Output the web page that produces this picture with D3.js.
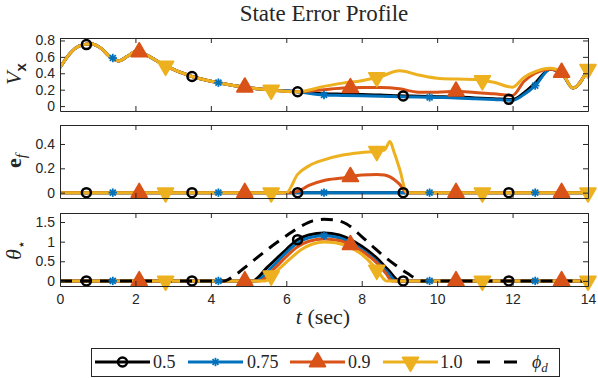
<!DOCTYPE html>
<html>
<head>
<meta charset="utf-8">
<script src="https://cdn.jsdelivr.net/npm/d3@7/dist/d3.min.js"></script>
<style>
  body { margin: 0; background: #fff; }
  svg { display: block; }
</style>
</head>
<body>
<svg id="chart" width="598" height="378"></svg>
<script>
// ---------------- data ----------------
var seriesNames = ["0.5", "0.75", "0.9", "1.0"];
var xTicks = [0, 2, 4, 6, 8, 10, 12, 14];

// V_x panel
var tVx = [0, 0.3, 0.5, 0.8, 1.1, 1.3, 1.55, 1.8, 2.05, 2.3, 2.8, 3.5, 4.2, 4.9, 5.6, 6.3,
           7.0, 7.5, 8.0, 8.5, 9.0, 9.5, 10.0, 10.5, 11.0, 11.5, 12.0, 12.3, 12.6, 13.0, 13.3, 13.6, 14.0];
var vxBlack  = [0.47, 0.66, 0.73, 0.76, 0.70, 0.61, 0.55, 0.61, 0.67, 0.62, 0.49, 0.36, 0.285, 0.23, 0.195, 0.175,
                0.15, 0.145, 0.14, 0.135, 0.125, 0.12, 0.115, 0.11, 0.10, 0.09, 0.08, 0.16, 0.28, 0.45, 0.40, 0.22, 0.45];
var vxBlue   = [0.47, 0.66, 0.73, 0.76, 0.70, 0.61, 0.55, 0.61, 0.67, 0.62, 0.49, 0.36, 0.285, 0.23, 0.195, 0.175,
                0.135, 0.13, 0.125, 0.12, 0.115, 0.11, 0.105, 0.10, 0.09, 0.08, 0.07, 0.14, 0.25, 0.45, 0.40, 0.22, 0.45];
var vxOrange = [0.47, 0.66, 0.73, 0.76, 0.70, 0.61, 0.55, 0.61, 0.67, 0.62, 0.49, 0.36, 0.285, 0.23, 0.195, 0.175,
                0.20, 0.22, 0.225, 0.225, 0.21, 0.17, 0.17, 0.18, 0.165, 0.15, 0.13, 0.30, 0.40, 0.45, 0.41, 0.22, 0.45];
var vxYellow = [0.47, 0.66, 0.73, 0.76, 0.70, 0.61, 0.55, 0.61, 0.67, 0.62, 0.49, 0.36, 0.285, 0.23, 0.195, 0.175,
                0.24, 0.28, 0.31, 0.36, 0.43, 0.38, 0.34, 0.33, 0.325, 0.29, 0.23, 0.35, 0.42, 0.46, 0.41, 0.22, 0.45];

// e_f panel
var tEf = [0, 6.0, 6.3, 6.6, 7.0, 7.5, 8.0, 8.4, 8.6, 8.75, 8.85, 9.0, 9.2, 14];
var efBlack  = [0, 0, 0, 0, 0, 0, 0, 0, 0, 0, 0, 0, 0, 0];
var efBlue   = [0, 0, 0, 0, 0, 0, 0, 0, 0, 0, 0, 0, 0, 0];
var efOrange = [0, 0, 0.01, 0.06, 0.10, 0.12, 0.145, 0.15, 0.145, 0.13, 0.11, 0.07, 0, 0];
var efYellow = [0, 0, 0.15, 0.22, 0.27, 0.31, 0.33, 0.34, 0.35, 0.42, 0.34, 0.20, 0, 0];

// theta panel
var thBlackT  = [0, 5.1, 5.5, 6.0, 6.3, 6.6, 7.0, 7.4, 7.7, 8.0, 8.4, 8.7, 9.0, 14];
var thBlack   = [0, 0, 0.35, 0.80, 1.05, 1.17, 1.22, 1.17, 1.05, 0.88, 0.58, 0.28, 0, 0];
var thBlueT   = [0, 5.2, 5.6, 6.0, 6.3, 6.6, 7.0, 7.4, 7.7, 8.0, 8.4, 8.7, 8.9, 14];
var thBlue    = [0, 0, 0.33, 0.72, 0.97, 1.10, 1.15, 1.10, 0.98, 0.80, 0.50, 0.20, 0, 0];
var thOrangeT = [0, 5.3, 5.7, 6.0, 6.3, 6.6, 7.0, 7.4, 7.7, 8.0, 8.4, 8.65, 8.8, 14];
var thOrange  = [0, 0, 0.33, 0.62, 0.87, 1.01, 1.07, 1.03, 0.92, 0.76, 0.46, 0.18, 0, 0];
var thYellowT = [0, 5.45, 5.8, 6.1, 6.4, 6.7, 7.0, 7.3, 7.7, 8.0, 8.3, 8.5, 8.65, 14];
var thYellow  = [0, 0, 0.30, 0.56, 0.80, 0.94, 0.99, 0.97, 0.85, 0.68, 0.40, 0.15, 0, 0];
var phiT = [0, 4.35, 4.6, 5.0, 5.5, 6.0, 6.4, 6.7, 7.0, 7.3, 7.6, 8.0, 8.3, 8.6, 8.9, 9.2, 9.6, 14];
var phiD = [0, 0, 0.12, 0.42, 0.80, 1.15, 1.40, 1.53, 1.57, 1.55, 1.45, 1.13, 0.87, 0.62, 0.40, 0.20, 0, 0];

// marker start times (every 2.8 s, staggered like the plot)
var markerStart = [0.7, 1.4, 2.1, 2.8];
var markerStep = 2.8;

// ---------------- setup ----------------
var colors = ["#000000", "#0072BD", "#D95319", "#EDB120"];
var markerTypes = ["circle", "star", "up", "down"];
var axisColor = "#262626";

var svg = d3.select("#chart");
var x = d3.scaleLinear().domain([0, 14]).range([60, 588]);

var panels = [
  { top: 38,  bottom: 111, domain: [-0.06, 0.83],  ticks: [0, 0.2, 0.4, 0.6, 0.8],
    series: [[tVx, vxBlack], [tVx, vxBlue], [tVx, vxOrange], [tVx, vxYellow]] },
  { top: 125, bottom: 198, domain: [-0.044, 0.556], ticks: [0, 0.2, 0.4],
    series: [[tEf, efBlack], [tEf, efBlue], [tEf, efOrange], [tEf, efYellow]] },
  { top: 213, bottom: 286, domain: [-0.13, 1.73],  ticks: [0, 0.5, 1, 1.5],
    series: [[thBlackT, thBlack], [thBlueT, thBlue], [thOrangeT, thOrange], [thYellowT, thYellow]],
    dashed: [phiT, phiD] }
];

// linear lookup so markers sit on the line
function interp(ts, vs, t) {
  for (var i = 0; i < ts.length - 1; i++) {
    if (t >= ts[i] && t <= ts[i + 1]) {
      var f = (t - ts[i]) / (ts[i + 1] - ts[i]);
      return vs[i] + f * (vs[i + 1] - vs[i]);
    }
  }
  return vs[vs.length - 1];
}

function drawMarker(g, type, color, cx, cy) {
  if (type == "circle") {
    g.append("circle").attr("cx", cx).attr("cy", cy).attr("r", 4.5)
      .attr("fill", "none").attr("stroke", color).attr("stroke-width", 2.5);
  } else if (type == "star") {
    [0, 45, 90, 135].forEach(function (a) {
      var r = 4.2, rad = a * Math.PI / 180;
      g.append("line")
        .attr("x1", cx - r * Math.cos(rad)).attr("y1", cy - r * Math.sin(rad))
        .attr("x2", cx + r * Math.cos(rad)).attr("y2", cy + r * Math.sin(rad))
        .attr("stroke", color).attr("stroke-width", 1.8);
    });
  } else {
    g.append("path")
      .attr("d", d3.symbol().type(d3.symbolTriangle).size(105)())
      .attr("transform", "translate(" + cx + "," + cy + ")" + (type == "down" ? " rotate(180)" : ""))
      .attr("fill", color).attr("stroke", color).attr("stroke-width", 2).attr("stroke-linejoin", "round");
  }
}

// ---------------- panels ----------------
panels.forEach(function (p, pi) {
  var y = d3.scaleLinear().domain(p.domain).range([p.bottom, p.top]);
  var g = svg.append("g");

  var line = d3.line()
    .x(function (d) { return x(d[0]); })
    .y(function (d) { return y(d[1]); })
    .curve(d3.curveMonotoneX);

  var clip = "clip" + pi;
  svg.append("clipPath").attr("id", clip).append("rect")
    .attr("x", x(0)).attr("y", p.top).attr("width", x(14) - x(0)).attr("height", p.bottom - p.top);
  var plot = g.append("g").attr("clip-path", "url(#" + clip + ")");

  p.series.forEach(function (s, si) {
    var pts = d3.zip(s[0], s[1]);
    plot.append("path").datum(pts)
      .attr("d", line)
      .attr("fill", "none")
      .attr("stroke", colors[si])
      .attr("stroke-width", 3)
      .attr("stroke-linejoin", "round");
    for (var t = markerStart[si]; t <= 14.001; t += markerStep) {
      drawMarker(g, markerTypes[si], colors[si], x(t), y(interp(s[0], s[1], t)));
    }
  });

  if (p.dashed) {
    plot.append("path").datum(d3.zip(p.dashed[0], p.dashed[1]))
      .attr("d", line)
      .attr("fill", "none")
      .attr("stroke", "#000")
      .attr("stroke-width", 3)
      .attr("stroke-dasharray", "12,8");
  }

  // axes (ticks pointing inwards, box all round)
  var ax = g.append("g").attr("class", "axes");
  ax.append("g").attr("transform", "translate(" + x(0) + ",0)")
    .call(d3.axisLeft(y).tickValues(p.ticks).tickSize(-5).tickSizeOuter(0).tickPadding(5)
      .tickFormat(function (d) { return d3.format("")(d); }));
  ax.append("g").attr("transform", "translate(" + x(14) + ",0)")
    .call(d3.axisRight(y).tickValues(p.ticks).tickSize(-5).tickSizeOuter(0).tickFormat(""));
  ax.append("g").attr("transform", "translate(0," + p.top + ")")
    .call(d3.axisTop(x).tickValues(xTicks).tickSize(-5).tickSizeOuter(0).tickFormat(""));
  ax.append("g").attr("transform", "translate(0," + p.bottom + ")")
    .call(d3.axisBottom(x).tickValues(xTicks).tickSize(-5).tickSizeOuter(0).tickPadding(8)
      .tickFormat(pi == 2 ? d3.format("d") : ""));

  ax.selectAll("path.domain, line").attr("stroke", axisColor);
  ax.selectAll("text").attr("fill", axisColor)
    .style("font-family", "'Liberation Sans', Arial, sans-serif").style("font-size", "14px");
});

// ---------------- labels ----------------
var serif = "'Liberation Serif', 'Times New Roman', serif";

svg.append("text").attr("x", 324).attr("y", 21).attr("text-anchor", "middle")
  .style("font-family", serif).style("font-size", "23px").attr("fill", axisColor)
  .text("State Error Profile");

var xl = svg.append("text").attr("x", 323).attr("y", 324).attr("text-anchor", "middle")
  .style("font-family", serif).style("font-size", "22px").attr("fill", axisColor);
xl.append("tspan").style("font-style", "italic").text("t");
xl.append("tspan").text(" (sec)");

// y labels, rotated
var vl = svg.append("text").attr("transform", "translate(21,74) rotate(-90)").attr("text-anchor", "middle")
  .style("font-family", serif).attr("fill", axisColor);
vl.append("tspan").style("font-style", "italic").style("font-size", "22px").text("V");
vl.append("tspan").attr("dy", 5).style("font-family", "'Liberation Sans', sans-serif")
  .style("font-weight", "bold").style("font-size", "15px").text("x");

var el = svg.append("text").attr("transform", "translate(21,161) rotate(-90)").attr("text-anchor", "middle")
  .style("font-family", serif).attr("fill", axisColor);
el.append("tspan").style("font-weight", "bold").style("font-size", "22px").text("e");
el.append("tspan").attr("dy", 5).style("font-style", "italic").style("font-size", "15px").text("f");

var tl = svg.append("text").attr("transform", "translate(21,250) rotate(-90)").attr("text-anchor", "middle")
  .style("font-family", serif).attr("fill", axisColor);
tl.append("tspan").style("font-style", "italic").style("font-size", "22px").text("θ");
tl.append("tspan").attr("dy", 5).style("font-size", "14px").text("⋆");

// ---------------- legend ----------------
var lg = svg.append("g");
lg.append("rect").attr("x", 91.5).attr("y", 348.5).attr("width", 468).attr("height", 28)
  .attr("fill", "#fff").attr("stroke", axisColor).attr("stroke-width", 1);

var legX = [95, 188, 290, 383];
var legTextX = [153, 247, 348, 440];
var legY = 362;
seriesNames.forEach(function (name, i) {
  lg.append("line").attr("x1", legX[i]).attr("x2", legX[i] + 55).attr("y1", legY).attr("y2", legY)
    .attr("stroke", colors[i]).attr("stroke-width", 3);
  drawMarker(lg, markerTypes[i], colors[i], legX[i] + 27.5, legY);
  lg.append("text").attr("x", legTextX[i]).attr("y", legY + 6)
    .style("font-family", serif).style("font-size", "18px").attr("fill", axisColor).text(name);
});
lg.append("line").attr("x1", 477).attr("x2", 518).attr("y1", legY).attr("y2", legY)
  .attr("stroke", "#000").attr("stroke-width", 3).attr("stroke-dasharray", "13,14");
var pl = lg.append("text").attr("x", 532).attr("y", legY + 6)
  .style("font-family", serif).style("font-size", "18px").attr("fill", axisColor);
pl.append("tspan").style("font-style", "italic").text("ϕ");
pl.append("tspan").attr("dy", 4).style("font-style", "italic").style("font-size", "13px").text("d");
</script>
</body>
</html>
